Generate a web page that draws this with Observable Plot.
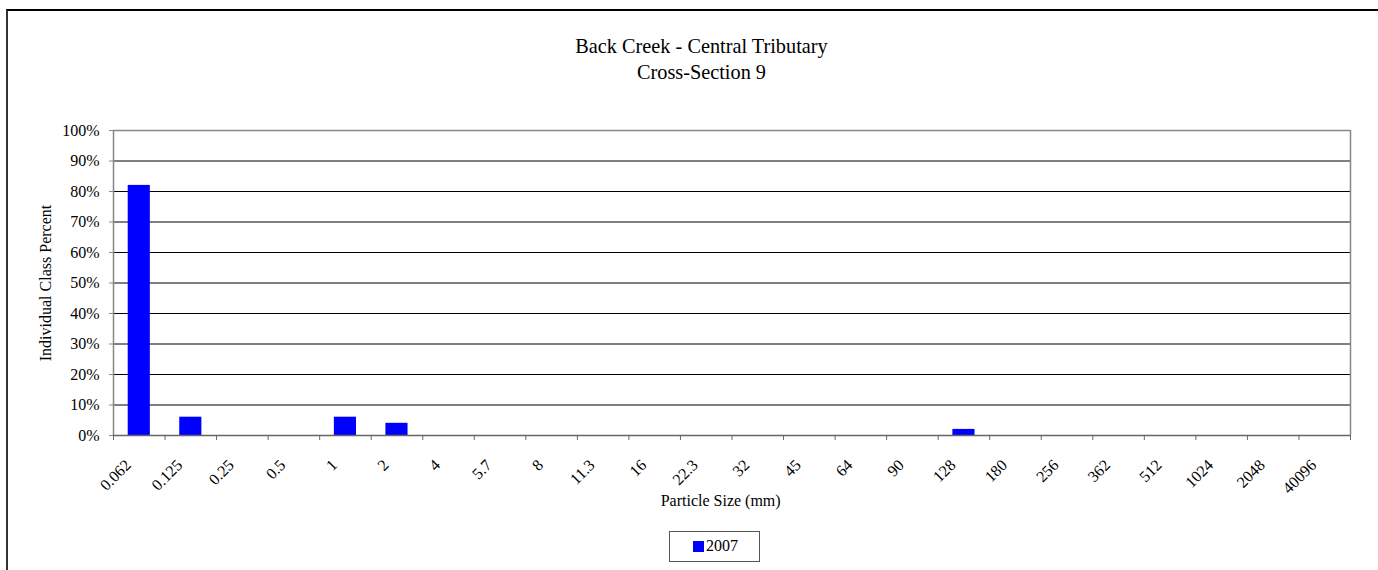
<!DOCTYPE html>
<html>
<head>
<meta charset="utf-8">
<script src="https://cdn.jsdelivr.net/npm/d3@7"></script>
<script src="https://cdn.jsdelivr.net/npm/@observablehq/plot@0.6"></script>
<style>
  html, body { margin: 0; padding: 0; background: #fff; }
  #wrap { position: relative; width: 1378px; height: 570px; overflow: hidden; font-family: "Liberation Serif", "Times New Roman", serif; color: #000; }
  #frame { position: absolute; left: 6px; top: 9px; width: 1420px; height: 620px; border-left: 2px solid #333; border-top: 2px solid #000; box-sizing: border-box; }
  #title { position: absolute; left: 0; top: 34px; width: 1403px; text-align: center; font-size: 20.3px; line-height: 25.5px; }
  #chart { position: absolute; left: 0; top: 0; }
  #legend { position: absolute; left: 669px; top: 531px; width: 91px; height: 31px; border: 1px solid #555; box-sizing: border-box; font-size: 16px; }
  #legend .sw { position: absolute; left: 23px; top: 9px; width: 11px; height: 11px; background: #0000ff; }
  #legend .lb { position: absolute; left: 36px; top: 5px; line-height: 18px; }
</style>
</head>
<body>
<div id="wrap">
  <div id="frame"></div>
  <div id="title">Back Creek - Central Tributary<br>Cross-Section 9</div>
  <div id="chart"></div>
  <div id="legend"><div class="sw"></div><div class="lb" id="legendLabel"></div></div>
</div>
<script>
const categories = ["0.062","0.125","0.25","0.5","1","2","4","5.7","8","11.3","16","22.3","32","45","64","90","128","180","256","362","512","1024","2048","40096"];
const values2007 = [82,6,0,0,6,4,0,0,0,0,0,0,0,0,0,0,2,0,0,0,0,0,0,0];
const seriesName = "2007";
const yTicks = [0,10,20,30,40,50,60,70,80,90,100];
const gridTicks = [10,20,30,40,50,60,70,80,90];
const xTitle = "Particle Size (mm)";
const yTitle = "Individual Class Percent";

document.getElementById("legendLabel").textContent = seriesName;

const data = categories.map((c, i) => ({i, c, v: values2007[i]}));
const n = categories.length;

const chart = Plot.plot({
  width: 1378,
  height: 520,
  marginLeft: 113,
  marginRight: 28,
  marginTop: 130,
  marginBottom: 85,
  style: {fontFamily: "'Liberation Serif', 'Times New Roman', serif", fontSize: "16px", color: "#000", background: "transparent"},
  x: {domain: [0, n]},
  y: {domain: [0, 100]},
  marks: [
    Plot.ruleY(gridTicks, {stroke: "#000", strokeWidth: 1}),
    Plot.ruleY([100], {stroke: "#888", strokeWidth: 1.5}),
    Plot.ruleX([n], {stroke: "#888", strokeWidth: 1.5}),
    Plot.rectY(data.filter(d => d.v > 0), {x1: "i", x2: d => d.i + 1, y: "v", fill: "#0000ff", insetLeft: 14.7, insetRight: 14.7}),
    Plot.ruleX([0], {stroke: "#888", strokeWidth: 1.5}),
    Plot.ruleY([0], {stroke: "#666", strokeWidth: 1.5}),
    Plot.axisY({ticks: yTicks, tickFormat: d => d + "%", tickSize: 4, tickPadding: 10, stroke: "#888", fontSize: 16, label: null}),
    Plot.axisX({ticks: d3.range(n + 1), tickFormat: () => "", tickSize: 5, stroke: "#666", label: null}),
    Plot.axisX({ticks: d3.range(n).map(i => i + 0.5), tickFormat: t => categories[Math.floor(t)], tickSize: 0, tickPadding: 27, dx: -11, tickRotate: -45, fontSize: 16, label: null}),
    Plot.text([xTitle], {frameAnchor: "bottom", x: 11.78, dy: 70, text: d => d, fontSize: 16, textAnchor: "middle"}),
    Plot.text([yTitle], {frameAnchor: "left", dx: -68, rotate: -90, text: d => d, fontSize: 16, textAnchor: "middle"})
  ]
});
document.getElementById("chart").appendChild(chart);
</script>
</body>
</html>
